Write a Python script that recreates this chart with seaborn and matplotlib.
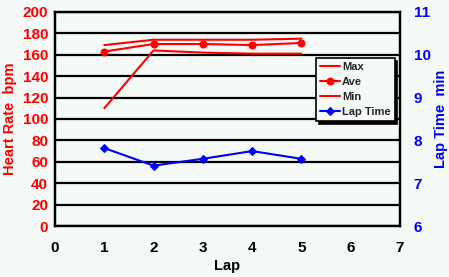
import numpy as np
import pandas as pd
import matplotlib
matplotlib.use("Agg")
import matplotlib.pyplot as plt
import seaborn as sns

# Datos
laps = [1, 2, 3, 4, 5]
hr_max = [169, 174, 174, 174, 175]
hr_ave = [163, 170, 170, 169, 171]
hr_min = [110, 164, 162, 161, 161]
lap_time = [7.82, 7.41, 7.57, 7.75, 7.57]

sns.set_style("white")
plt.rcParams["font.family"] = ["Liberation Sans", "DejaVu Sans"]
plt.rcParams["font.weight"] = "bold"

bg = "#f5faf7"
fig = plt.figure(figsize=(4.49, 2.77), dpi=100, facecolor=bg)
ax = fig.add_axes([0.1225, 0.184, 0.768, 0.773], facecolor=bg)
ax2 = ax.twinx()

df = pd.DataFrame({"Lap": laps, "Max": hr_max, "Ave": hr_ave, "Min": hr_min, "LapTime": lap_time})

for y in range(0, 201, 20):
    ax.axhline(y, color="black", lw=1.6, zorder=0)

sns.lineplot(data=df, x="Lap", y="Max", ax=ax, color="red", lw=1.5, label="Max", legend=False)
sns.lineplot(data=df, x="Lap", y="Ave", ax=ax, color="red", lw=1.5, marker="o", markersize=5,
             markeredgecolor="red", label="Ave", legend=False)
sns.lineplot(data=df, x="Lap", y="Min", ax=ax, color="red", lw=1.5, label="Min", legend=False)
sns.lineplot(data=df, x="Lap", y="LapTime", ax=ax2, color="blue", lw=1.5, marker="D", markersize=4,
             markeredgecolor="blue", label="Lap Time", legend=False)

ax.set_xlim(0, 7)
ax.set_ylim(0, 200)
ax2.set_ylim(6, 11)
ax.set_xticks(range(0, 8))
ax.set_yticks(range(0, 201, 20))
ax2.set_yticks(range(6, 12))

ax.tick_params(axis="x", direction="in", length=4, width=1, colors="black", labelsize=11, pad=11)
ax.tick_params(axis="y", length=0, labelcolor="red", labelsize=11, pad=5)
ax2.tick_params(axis="y", length=0, labelcolor="blue", labelsize=11, pad=10)
for lab in ax.get_xticklabels() + ax.get_yticklabels() + ax2.get_yticklabels():
    lab.set_fontweight("bold")

ax.set_xlabel("Lap", fontsize=10.5, fontweight="bold", color="black", labelpad=3)
ax.set_ylabel("Heart Rate  bpm", fontsize=10.5, fontweight="bold", color="red", labelpad=4)
ax2.set_ylabel("Lap Time  min", fontsize=10.5, fontweight="bold", color="blue", labelpad=2)

for a in (ax, ax2):
    for s in a.spines.values():
        s.set_color("black")
        s.set_linewidth(1.6)
        s.set_visible(True)

h1, l1 = ax.get_legend_handles_labels()
h2, l2 = ax2.get_legend_handles_labels()
leg = ax2.legend(h1 + h2, l1 + l2, loc="lower left", bbox_to_anchor=(0.757, 0.49),
                 fontsize=8, frameon=True, fancybox=False,
                 shadow={"color": "black", "alpha": 1.0},
                 handlelength=1.8, handletextpad=0.2, borderpad=0.35, labelspacing=0.45,
                 borderaxespad=0)
leg.get_frame().set_edgecolor("black")
leg.get_frame().set_linewidth(1.2)
leg.get_frame().set_facecolor(bg)
for t in leg.get_texts():
    t.set_fontweight("bold")

fig.savefig("out.png", dpi=100, facecolor=bg)
